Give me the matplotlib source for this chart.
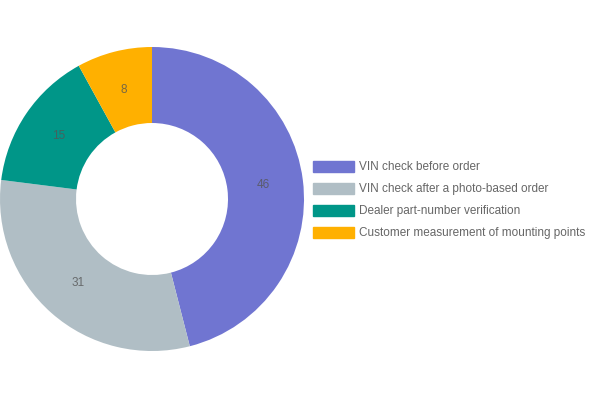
import matplotlib.pyplot as plt
import matplotlib.patches as mpatches

plt.rcParams['font.family'] = ['Liberation Sans', 'DejaVu Sans']

labels = ['VIN check before order', 'VIN check after a photo-based order',
          'Dealer part-number verification', 'Customer measurement of mounting points']
values = [46, 31, 15, 8]
colors = ['#7075d1', '#b0bec5', '#009688', '#ffb000']

fig = plt.figure(figsize=(6, 4), dpi=100)
ax = fig.add_axes([0.0, 0.1225, 0.5067, 0.76])

wedges, texts = ax.pie(values, colors=colors, startangle=90, counterclock=False,
                       radius=1.0, wedgeprops=dict(width=0.5, linewidth=0),
                       labels=[str(v) for v in values], labeldistance=0.74,
                       textprops=dict(fontsize=8.5, color='#555555', alpha=0.8,
                                      ha='center', va='center'))
ax.set_xlim(-1, 1)
ax.set_ylim(-1, 1)
ax.set_aspect('equal')

handles = [mpatches.Patch(color=c, label=l) for c, l in zip(colors, labels)]
leg = fig.legend(handles=handles, loc='center left', bbox_to_anchor=(0.5145, 0.5),
                 frameon=False, fontsize=8.5, handlelength=3.4, handleheight=1.05,
                 labelspacing=0.8, handletextpad=0.5, borderaxespad=0)
for t in leg.get_texts():
    t.set_color('#666666')

fig.savefig('out.png', dpi=100)
